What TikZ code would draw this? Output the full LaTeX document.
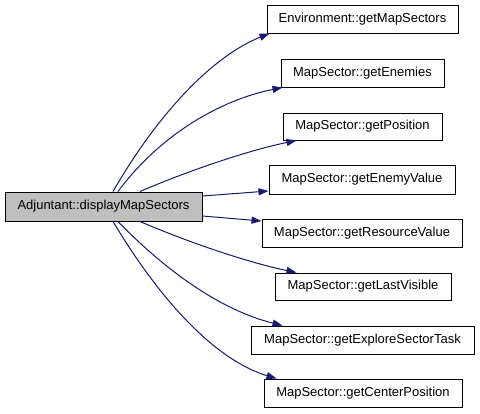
\documentclass[tikz,border=0pt]{standalone}
\usepackage{fontspec}
\setmainfont{Liberation Sans}
\usetikzlibrary{arrows.meta}
\definecolor{edgeblue}{HTML}{191970}
\definecolor{boxgrey}{HTML}{BFBFBF}
\begin{document}
\begin{tikzpicture}[x=1pt,y=-1pt,
  fn/.style={draw=black,line width=1pt,fill=white,rectangle,inner sep=0pt,minimum height=28pt,font=\fontsize{13}{15}\selectfont},
  edge/.style={draw=edgeblue,line width=1pt,-{Triangle[length=10pt,width=7pt]}}]
\useasboundingbox (0,0) rectangle (480,413);
\node[fn,fill=boxgrey,minimum width=197pt,minimum height=29pt] (L) at (103.5,206.5) {Adjuntant::displayMapSectors};
\node[fn,minimum width=191pt] (E) at (362.5,19) {Environment::getMapSectors};
\node[fn,minimum width=163pt] (N) at (362.5,73) {MapSector::getEnemies};
\node[fn,minimum width=159pt,minimum height=27pt] (P) at (362.5,126.5) {MapSector::getPosition};
\node[fn,minimum width=186pt,minimum height=29pt] (V) at (362,179.5) {MapSector::getEnemyValue};
\node[fn,minimum width=200pt] (R) at (362,233) {MapSector::getResourceValue};
\node[fn,minimum width=176pt,minimum height=27pt] (T) at (363,286.5) {MapSector::getLastVisible};
\node[fn,minimum width=223pt] (X) at (362.5,340) {MapSector::getExploreSectorTask};
\node[fn,minimum width=198pt] (C) at (363,393) {MapSector::getCenterPosition};
\draw[edge] ([xshift=9.5pt]L.north) .. controls (160,110) and (215,55) .. ([xshift=3pt]E.south west);
\draw[edge] ([xshift=14.5pt]L.north) .. controls (160,135) and (220,100) .. ([xshift=2pt]N.south west);
\draw[edge] ([xshift=36.5pt]L.north) .. controls (190,170) and (250,150) .. ([xshift=14pt]P.south west);
\draw[edge] ([yshift=10.5pt]L.east) -- ([yshift=-11.5pt]V.west);
\draw[edge] ([yshift=-9.5pt]L.east) -- ([yshift=12pt]R.west);
\draw[edge] ([xshift=36.5pt]L.south) .. controls (190,243) and (250,263) .. ([xshift=22pt]T.north west);
\draw[edge] ([xshift=14.5pt]L.south) .. controls (165,270) and (220,310) .. ([xshift=32pt]X.north west);
\draw[edge] ([xshift=9.5pt]L.south) .. controls (160,300) and (215,360) .. ([xshift=13pt]C.north west);
\end{tikzpicture}
\end{document}
